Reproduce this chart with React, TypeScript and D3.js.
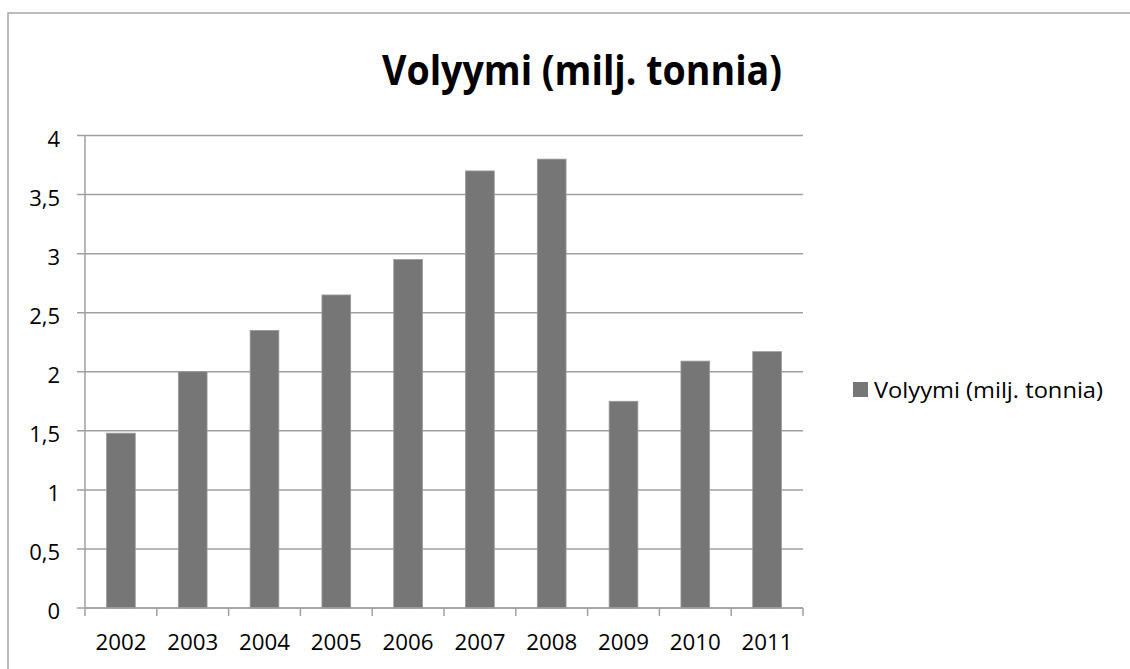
import { useEffect, useRef } from 'react';
import * as d3 from 'd3';

const years = ['2002', '2003', '2004', '2005', '2006', '2007', '2008', '2009', '2010', '2011'];
const volumes = [1.48, 2.0, 2.35, 2.65, 2.95, 3.7, 3.8, 1.75, 2.09, 2.17];
const yTicks = [0, 0.5, 1, 1.5, 2, 2.5, 3, 3.5, 4];
const title = 'Volyymi (milj. tonnia)';

const App = () => {
    const svgRef = useRef<SVGSVGElement>(null);

    useEffect(() => {
        if (!svgRef.current) return;
        const svg = d3.select(svgRef.current);
        svg.selectAll('*').remove();

        const font = '"Open Sans", "Noto Sans", sans-serif';
        const left = 85, right = 803, top = 135.5, bottom = 608;

        // outer frame (runs off the right and bottom edge)
        svg.append('rect')
            .attr('x', 8).attr('y', 13)
            .attr('width', 1140).attr('height', 700)
            .attr('fill', 'white')
            .attr('stroke', '#a6a6a6')
            .attr('stroke-width', 1.5);

        const x = d3.scaleBand<string>().domain(years).range([left, right]).paddingInner(0.6).paddingOuter(0.3);
        const xTicksScale = d3.scaleBand<string>().domain(years).range([left, right]);
        const y = d3.scaleLinear().domain([0, 4]).range([bottom, top]);

        // gridlines with left tick stubs
        svg.append('g')
            .selectAll('line')
            .data(yTicks)
            .join('line')
            .attr('x1', left - 8).attr('x2', right)
            .attr('y1', d => y(d)).attr('y2', d => y(d))
            .attr('stroke', '#a0a0a0')
            .attr('stroke-width', 1.5);

        // y axis line
        svg.append('line')
            .attr('x1', left).attr('x2', left)
            .attr('y1', top).attr('y2', bottom)
            .attr('stroke', '#a0a0a0').attr('stroke-width', 1.5);

        // bars
        svg.append('g')
            .selectAll('rect')
            .data(volumes)
            .join('rect')
            .attr('x', (_, i) => x(years[i])!)
            .attr('width', x.bandwidth())
            .attr('y', d => y(d))
            .attr('height', d => bottom - y(d))
            .attr('fill', '#767676')
            .attr('stroke', '#9a9a9a')
            .attr('stroke-width', 0.8);

        // x axis line and ticks
        svg.append('line')
            .attr('x1', left).attr('x2', right)
            .attr('y1', bottom).attr('y2', bottom)
            .attr('stroke', '#a0a0a0').attr('stroke-width', 1.5);
        const tickXs = years.map(yr => xTicksScale(yr)!).concat([right]);
        svg.append('g')
            .selectAll('line')
            .data(tickXs)
            .join('line')
            .attr('x1', d => d).attr('x2', d => d)
            .attr('y1', bottom).attr('y2', bottom + 8)
            .attr('stroke', '#a0a0a0').attr('stroke-width', 1.5);

        // y labels
        svg.append('g')
            .selectAll('text')
            .data(yTicks)
            .join('text')
            .attr('x', 60)
            .attr('y', d => y(d) + 11)
            .attr('text-anchor', 'end')
            .attr('font-family', font)
            .attr('font-size', 22)
            .attr('fill', '#000')
            .text(d => String(d).replace('.', ','));

        // x labels
        svg.append('g')
            .selectAll('text')
            .data(years)
            .join('text')
            .attr('x', d => x(d)! + x.bandwidth() / 2)
            .attr('y', 650)
            .attr('text-anchor', 'middle')
            .attr('font-family', font)
            .attr('font-size', 22)
            .attr('textLength', 51)
            .attr('lengthAdjust', 'spacingAndGlyphs')
            .attr('fill', '#000')
            .text(d => d);

        // title
        svg.append('text')
            .attr('x', 582)
            .attr('y', 85)
            .attr('text-anchor', 'middle')
            .attr('font-family', font)
            .attr('font-weight', 'bold')
            .attr('font-size', 41)
            .attr('textLength', 400)
            .attr('lengthAdjust', 'spacingAndGlyphs')
            .attr('fill', '#000')
            .text(title);

        // legend
        svg.append('rect')
            .attr('x', 853).attr('y', 382)
            .attr('width', 15).attr('height', 15)
            .attr('fill', '#767676');
        svg.append('text')
            .attr('x', 874)
            .attr('y', 398)
            .attr('font-family', font)
            .attr('font-size', 21)
            .attr('textLength', 229)
            .attr('lengthAdjust', 'spacingAndGlyphs')
            .attr('fill', '#000')
            .text(title);
    }, []);

    return (
        <svg ref={svgRef} width={1130} height={669}
            style={{ position: 'absolute', left: 0, top: 0, background: 'white' }} />
    );
};

export default App;
